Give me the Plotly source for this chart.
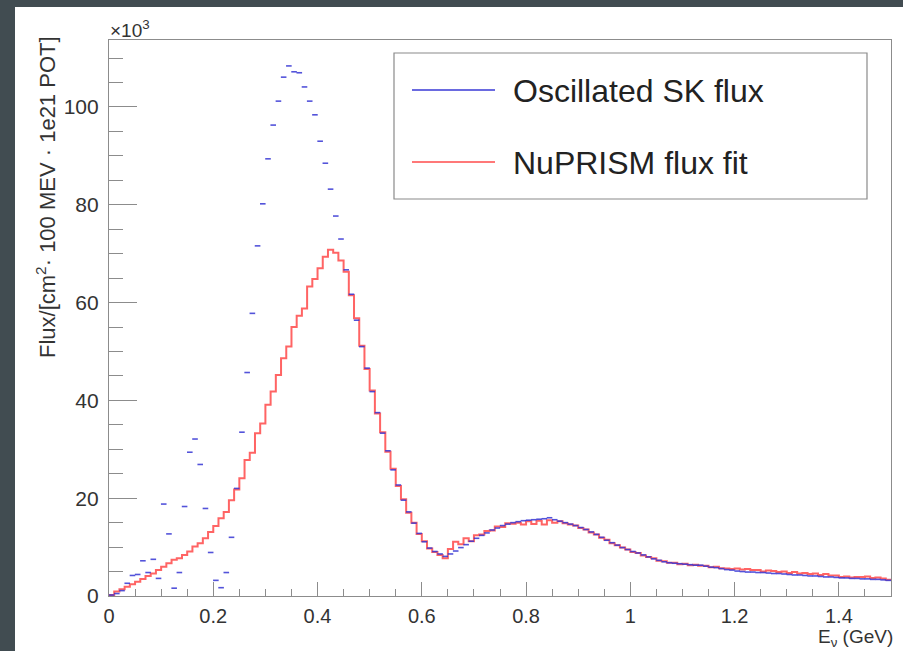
import plotly.graph_objects as go

# ---------------- data (flux in units of 10^3, 0.01 GeV bins from 0 to 1.5 GeV) ----------------
bin_width = 0.01
n_bins = 150
energy_centers = [round(bin_width * (i + 0.5), 3) for i in range(n_bins)]

sk_flux = [
    0.2, 0.5, 1.1, 2.6, 4.2, 4.4, 7.2, 4.8, 7.5, 3.6,
    18.8, 12.7, 1.6, 4.8, 18.3, 29.4, 32.1, 26.9, 17.9, 8.9,
    3.2, 1.7, 4.8, 12.0, 22.0, 33.5, 45.7, 57.8, 71.6, 80.2,
    89.4, 96.3, 101.2, 106.1, 108.4, 107.2, 107.0, 104.1, 101.2, 98.4,
    93.0, 88.5, 83.2, 77.7, 73.0, 66.7, 61.7, 56.4, 51.0, 46.6,
    41.8, 37.5, 33.3, 29.7, 25.8, 22.7, 19.6, 17.2, 14.9, 12.8,
    11.1, 9.8, 9.1, 8.6, 8.1, 8.6, 9.2, 9.9, 10.5, 11.2,
    11.8, 12.4, 12.9, 13.5, 13.9, 14.4, 14.7, 15.0, 15.2, 15.4,
    15.5, 15.6, 15.7, 15.8, 16.0, 15.6, 15.3, 15.0, 14.7, 14.4,
    14.0, 13.6, 13.1, 12.6, 12.0, 11.4, 10.9, 10.4, 9.9, 9.5,
    9.1, 8.8, 8.4, 8.0, 7.6, 7.3, 7.0, 6.8, 6.7, 6.6,
    6.5, 6.4, 6.3, 6.3, 6.1, 5.9, 5.8, 5.6, 5.4, 5.3,
    5.1, 5.0, 4.9, 4.9, 4.8, 4.8, 4.7, 4.6, 4.6, 4.5,
    4.4, 4.3, 4.3, 4.2, 4.1, 4.1, 4.0, 3.9, 3.9, 3.8,
    3.7, 3.7, 3.6, 3.6, 3.5, 3.5, 3.4, 3.4, 3.3, 3.2,
]

nuprism_fit = [
    0.2, 0.9, 1.4, 1.9, 2.4, 2.9, 3.5, 4.1, 4.6, 5.3,
    6.0, 6.7, 7.4, 7.7, 8.4, 9.1, 10.1, 10.8, 11.8, 13.1,
    14.3, 15.9, 17.2, 19.6, 21.8, 24.1, 27.8, 29.3, 33.3, 35.3,
    39.1, 41.8, 45.2, 48.6, 51.0, 55.0, 57.3, 58.8, 63.3, 64.8,
    67.0, 69.4, 70.8, 70.2, 68.6, 66.3, 61.5, 56.8, 51.2, 46.4,
    42.0, 37.3, 33.5, 29.5, 26.0, 22.5, 19.8, 17.0, 15.0, 12.7,
    11.2, 9.7, 9.0, 8.4, 7.7, 9.6, 11.1, 10.6, 11.8, 11.2,
    12.4, 12.6, 13.3, 13.4, 14.2, 14.1, 14.9, 14.8, 15.0, 14.6,
    15.3, 14.7, 15.4, 14.6, 15.5, 15.0, 15.3, 14.9, 14.6, 14.4,
    13.9, 13.6, 13.0, 12.6, 11.9, 11.5, 10.8, 10.4, 9.9, 9.5,
    9.0, 8.8, 8.3, 8.0, 7.7, 7.2, 7.1, 6.8, 6.8, 6.5,
    6.6, 6.3, 6.4, 6.2, 6.2, 5.9, 6.0, 5.7, 5.6, 5.5,
    5.6, 5.4, 5.5, 5.3, 5.3, 5.0, 5.2, 5.1, 4.9, 5.0,
    4.7, 4.9, 4.6, 4.7, 4.5, 4.6, 4.3, 4.5, 4.2, 4.2,
    3.9, 4.0, 3.8, 3.9, 3.9, 4.0, 3.7, 3.8, 3.6, 3.3,
]

x_range = [0, 1.5]
y_range = [0, 113.7]
x_tickvals = [0, 0.2, 0.4, 0.6, 0.8, 1.0, 1.2, 1.4]
x_ticktext = ["0", "0.2", "0.4", "0.6", "0.8", "1", "1.2", "1.4"]
legend_labels = ["Oscillated SK flux", "NuPRISM flux fit"]

BLUE = "#3535d4"
RED = "#ff6464"
BG = "#414c51"
FONT = "Liberation Sans, Arial, Helvetica, sans-serif"
TXT = "#333333"
AXC = "#8c8c8c"

fig = go.Figure()

# step histogram (edges at bin boundaries)
step_x = [x_range[0]] + energy_centers + [x_range[1]]
step_y = [nuprism_fit[0]] + nuprism_fit + [nuprism_fit[-1]]
fig.add_trace(go.Scatter(
    x=step_x, y=step_y, mode="lines", line=dict(color=RED, width=2, shape="hvh"),
    name=legend_labels[1], showlegend=False, hoverinfo="skip"))

fig.add_trace(go.Scatter(
    x=energy_centers, y=sk_flux, mode="markers",
    marker=dict(symbol="line-ew-open", size=4, color=BLUE, opacity=0.85,
                line=dict(color=BLUE, width=1.6)),
    name=legend_labels[0], showlegend=False))

W, H = 903, 651
L, R, T, B = 109, 12, 40, 55
pw, ph = W - L - R, H - T - B


def px(xp):
    return (xp - L) / pw


def py(yp):
    return (H - B - yp) / ph


shapes = [
    # white pad on the dark slide
    dict(type="rect", xref="paper", yref="paper", x0=px(15), x1=px(W + 5), y0=py(H + 5), y1=py(7),
         fillcolor="white", line=dict(width=0), layer="below"),
    # legend box
    dict(type="rect", xref="paper", yref="paper", x0=px(394), x1=px(867), y0=py(199), y1=py(53),
         fillcolor="white", line=dict(color="#8a8a8a", width=1.2), layer="above"),
    dict(type="line", xref="paper", yref="paper", x0=px(412), x1=px(495), y0=py(90), y1=py(90),
         line=dict(color="#6a6ae0", width=2), layer="above"),
    dict(type="line", xref="paper", yref="paper", x0=px(412), x1=px(495), y0=py(162), y1=py(162),
         line=dict(color="#ff7878", width=2), layer="above"),
]

annotations = [
    dict(xref="paper", yref="paper", x=px(511), y=py(91), xanchor="left", yanchor="middle",
         text=legend_labels[0], showarrow=False, font=dict(family=FONT, size=32, color="#222222")),
    dict(xref="paper", yref="paper", x=px(511), y=py(163), xanchor="left", yanchor="middle",
         text=legend_labels[1], showarrow=False, font=dict(family=FONT, size=32, color="#222222")),
    dict(xref="paper", yref="paper", x=px(108), y=py(29), xanchor="left", yanchor="middle",
         text="×10<sup>3</sup>", showarrow=False, font=dict(family=FONT, size=19, color=TXT)),
    dict(xref="paper", yref="paper", x=px(895), y=py(638), xanchor="right", yanchor="middle",
         text="E<sub>ν</sub> (GeV)", showarrow=False, font=dict(family=FONT, size=19, color=TXT)),
    dict(xref="paper", yref="paper", x=px(46), y=py(34), xanchor="center", yanchor="top",
         textangle=-90, text="Flux/[cm<sup>2</sup>· 100 MEV · 1e21 POT]", showarrow=False,
         font=dict(family=FONT, size=22, color=TXT)),
]

fig.update_layout(
    width=W, height=H,
    margin=dict(l=L, r=R, t=T, b=B, pad=0),
    paper_bgcolor=BG, plot_bgcolor="white",
    shapes=shapes, annotations=annotations, showlegend=False,
    font=dict(family=FONT, color=TXT),
)

fig.update_xaxes(
    range=x_range, showgrid=False, zeroline=False,
    showline=True, linecolor=AXC, linewidth=1.2, mirror=True,
    ticks="inside", ticklen=14, tickwidth=1.2, tickcolor=AXC,
    tickvals=x_tickvals, ticktext=x_ticktext,
    minor=dict(ticks="inside", ticklen=7, tickcolor=AXC, tickwidth=1.2, dtick=0.05, tick0=0),
    tickfont=dict(family=FONT, size=20, color=TXT), ticklabelstandoff=2,
)
fig.update_yaxes(
    range=y_range, showgrid=False, zeroline=False,
    showline=True, linecolor=AXC, linewidth=1.2, mirror=True,
    ticks="inside", ticklen=28, tickwidth=1.2, tickcolor=AXC,
    tick0=0, dtick=20,
    minor=dict(ticks="inside", ticklen=14, tickcolor=AXC, tickwidth=1.2, dtick=5, tick0=0),
    tickfont=dict(family=FONT, size=21, color=TXT), ticklabelstandoff=5,
)

fig.write_html(
    "out.html",
    config={"displayModeBar": False},
    post_script="document.body.style.margin='0';document.body.style.background='" + BG + "';",
)
